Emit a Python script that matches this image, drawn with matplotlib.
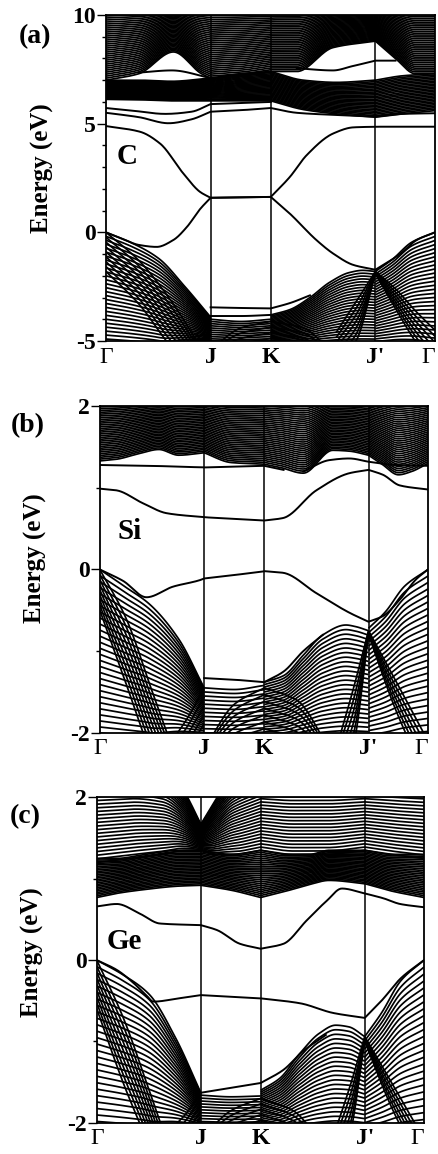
import numpy as np
import matplotlib
matplotlib.use("Agg")
import matplotlib.pyplot as plt

plt.rcParams['font.family'] = ['Liberation Serif', 'DejaVu Serif']
plt.rcParams['axes.unicode_minus'] = False

# high-symmetry path
k_ticks = [0.0, 0.318, 0.501, 0.819, 1.0]
k_labels = ["Γ", "J", "K", "J'", "Γ"]

# ---------------- (a) C : single bands (k nodes, energies) ----------------
C_gap_lo_k = [0, 0.05, 0.1, 0.154, 0.205, 0.245, 0.286, 0.318, 0.41, 0.501, 0.559, 0.64, 0.691, 0.752, 0.819, 0.894, 0.944, 1.0]
C_gap_lo_E = [0, -0.3, -0.58, -0.67, -0.35, 0.23, 1.07, 1.59, 1.61, 1.63, 0.86, -0.36, -0.98, -1.5, -1.72, -1.0, -0.36, 0.0]
C_gap_hi_k = [0, 0.103, 0.164, 0.235, 0.286, 0.318, 0.41, 0.501, 0.559, 0.61, 0.691, 0.752, 0.819, 0.9, 1.0]
C_gap_hi_E = [4.89, 4.63, 4.09, 2.71, 1.86, 1.59, 1.61, 1.63, 2.55, 3.55, 4.55, 4.83, 4.86, 4.86, 4.86]
C_c1_k = [0, 0.1, 0.19, 0.26, 0.318, 0.41, 0.501, 0.58, 0.7, 0.819, 0.9, 1.0]
C_c1_E = [5.5, 5.3, 5.02, 5.2, 5.55, 5.62, 5.72, 5.5, 5.4, 5.32, 5.45, 5.48]
C_c2_k = [0, 0.08, 0.18, 0.26, 0.318, 0.41, 0.501]
C_c2_E = [5.72, 5.6, 5.45, 5.55, 5.9, 5.95, 6.0]
C_lens_k = [0.58, 0.69, 0.75, 0.819, 0.88]
C_lens_E = [7.55, 7.45, 7.65, 7.9, 7.9]
C_tri_k = [0.1, 0.2, 0.318]
C_tri_E = [7.35, 7.45, 7.1]
C_v1_k = [0.318, 0.41, 0.501, 0.56, 0.62]
C_v1_E = [-3.45, -3.48, -3.5, -3.25, -2.9]
C_v2_k = [0.318, 0.41, 0.501]
C_v2_E = [-3.85, -3.85, -3.8]

# (a) C : dense band families (k nodes, upper edge, lower edge, number of bands)
C_cb_low = ([0, 0.1, 0.2, 0.318, 0.41, 0.501, 0.6, 0.7, 0.819, 0.9, 1.0],
            [7.0, 7.0, 6.95, 7.1, 7.3, 7.4, 7.0, 6.9, 7.0, 7.2, 7.3],
            [6.12, 6.1, 6.05, 6.05, 6.05, 6.05, 5.65, 5.45, 5.3, 5.45, 5.6], 26)
C_cb_up = ([0, 0.1, 0.205, 0.29, 0.318, 0.41, 0.501, 0.58, 0.69, 0.819, 0.88, 0.94, 1.0],
           [10.6] * 13,
           [7.0, 7.3, 8.3, 7.3, 7.1, 7.2, 7.4, 7.4, 8.5, 8.8, 8.0, 7.3, 7.3], 40)
C_vb_gj = ([0, 0.08, 0.16, 0.24, 0.318], [0, -0.5, -1.2, -2.5, -3.9], [-6.0, -6.0, -6.0, -5.6, -5.2], 34)
C_vb_steep = ([0, 0.1, 0.2, 0.28], [0, -1.3, -3.2, -5.1], [-1.8, -3.3, -5.3, -6.5], 9)
C_vb_jv = ([0.2, 0.26, 0.318], [-6.0, -5.0, -4.0], [-6.5, -6.0, -5.2], 6)
C_vb_jk = ([0.318, 0.41, 0.501], [-4.0, -4.1, -4.0], [-5.3, -5.3, -5.3], 14)
C_vb_dome = ([0.318, 0.41, 0.501, 0.6, 0.68], [-5.4, -4.4, -4.1, -4.4, -5.4], [-5.8, -5.6, -5.4, -5.6, -5.8], 6)
C_vb_hump = ([0.501, 0.56, 0.62, 0.68, 0.74, 0.78, 0.819],
             [-3.8, -3.55, -3.0, -2.3, -1.85, -1.75, -1.8], [-5.3] * 7, 28)
C_vb_jg = ([0.819, 0.87, 0.93, 1.0], [-1.8, -1.25, -0.45, 0.0], [-5.5, -5.5, -5.6, -5.8], 32)
C_vb_xr = ([0.819, 0.88, 0.94, 1.0], [-1.8, -2.6, -3.6, -4.5], [-1.9, -3.5, -5.0, -6.2], 7)
C_vb_xl = ([0.70, 0.76, 0.819], [-4.6, -3.2, -1.8], [-6.0, -5.0, -1.9], 7)

# ---------------- (b) Si ----------------
Si_gap_lo_k = [0, 0.071, 0.142, 0.223, 0.305, 0.318, 0.406, 0.501, 0.558, 0.66, 0.761, 0.819, 0.863, 0.914, 0.964, 1.0]
Si_gap_lo_E = [0, -0.14, -0.34, -0.21, -0.13, -0.11, -0.07, -0.02, -0.04, -0.29, -0.53, -0.64, -0.57, -0.37, -0.12, 0.0]
Si_gap_hi_k = [0, 0.05, 0.132, 0.203, 0.318, 0.501, 0.558, 0.66, 0.761, 0.819, 0.863, 0.914, 1.0]
Si_gap_hi_E = [0.99, 0.97, 0.81, 0.69, 0.64, 0.60, 0.63, 0.97, 1.18, 1.22, 1.16, 1.03, 0.98]
Si_c1_k = [0, 0.15, 0.318, 0.41, 0.501, 0.56]
Si_c1_E = [1.28, 1.27, 1.25, 1.26, 1.27, 1.22]
Si_c2_k = [0.62, 0.7, 0.76, 0.819, 0.9, 1.0]
Si_c2_E = [1.2, 1.34, 1.36, 1.32, 1.28, 1.27]
Si_v1_k = [0.318, 0.41, 0.501, 0.56, 0.62, 0.68]
Si_v1_E = [-1.33, -1.35, -1.38, -1.25, -1.0, -0.8]

Si_cb = ([0, 0.05, 0.12, 0.18, 0.24, 0.318, 0.40, 0.501, 0.55, 0.62, 0.71, 0.76, 0.819, 0.86, 0.91, 0.95, 1.0],
         [2.3] * 17,
         [1.33, 1.35, 1.42, 1.47, 1.40, 1.43, 1.31, 1.29, 1.25, 1.18, 1.46, 1.45, 1.40, 1.29, 1.16, 1.2, 1.3], 45)
Si_vb_gj = ([0, 0.08, 0.15, 0.24, 0.318], [0, -0.22, -0.42, -0.85, -1.45], [-2.3, -2.3, -2.3, -2.2, -2.1], 32)
Si_vb_steep = ([0, 0.08, 0.16, 0.24], [0, -0.6, -1.5, -2.4], [-0.5, -1.4, -2.3, -3.0], 9)
Si_vb_jv = ([0.22, 0.27, 0.318], [-2.1, -1.8, -1.45], [-2.6, -2.3, -2.0], 6)
Si_vb_jk = ([0.318, 0.41, 0.501], [-1.45, -1.47, -1.42], [-2.2] * 3, 16)
Si_vb_dome = ([0.318, 0.41, 0.501, 0.6, 0.7], [-2.2, -1.65, -1.45, -1.6, -2.2], [-2.5, -2.3, -2.2, -2.3, -2.5], 10)
Si_vb_hump = ([0.501, 0.56, 0.62, 0.68, 0.75, 0.78, 0.819],
              [-1.38, -1.3, -1.05, -0.8, -0.68, -0.7, -0.75], [-2.2] * 7, 28)
Si_vb_jg = ([0.819, 0.87, 0.93, 1.0], [-0.72, -0.52, -0.2, 0.0], [-2.3] * 4, 30)
Si_vb_xr = ([0.819, 0.9, 1.0], [-0.75, -1.35, -2.1], [-0.8, -1.7, -2.6], 6)
Si_vb_xl = ([0.72, 0.77, 0.819], [-2.2, -1.5, -0.75], [-2.6, -2.2, -0.8], 6)

# ---------------- (c) Ge ----------------
Ge_gap_lo_k = [0, 0.061, 0.112, 0.153, 0.173, 0.25, 0.318, 0.41, 0.501, 0.621, 0.723, 0.819, 0.87, 0.93, 1.0]
Ge_gap_lo_E = [0, -0.12, -0.28, -0.44, -0.51, -0.47, -0.43, -0.45, -0.47, -0.53, -0.65, -0.71, -0.5, -0.22, 0.0]
Ge_gap_hi_k = [0, 0.061, 0.132, 0.193, 0.318, 0.367, 0.438, 0.501, 0.57, 0.642, 0.703, 0.749, 0.819, 0.876, 0.927, 1.0]
Ge_gap_hi_E = [0.66, 0.69, 0.57, 0.45, 0.43, 0.37, 0.20, 0.14, 0.20, 0.49, 0.73, 0.88, 0.82, 0.76, 0.69, 0.65]
Ge_v1_k = [0.318, 0.41, 0.501, 0.57, 0.63, 0.7]
Ge_v1_E = [-1.63, -1.57, -1.51, -1.35, -1.12, -0.92]

Ge_cb_low = ([0, 0.06, 0.15, 0.25, 0.318, 0.41, 0.501, 0.58, 0.65, 0.71, 0.819, 0.9, 1.0],
             [1.25, 1.25, 1.3, 1.35, 1.35, 1.3, 1.35, 1.3, 1.3, 1.35, 1.35, 1.3, 1.3],
             [0.77, 0.82, 0.87, 0.91, 0.92, 0.86, 0.77, 0.85, 0.93, 0.98, 0.94, 0.85, 0.77], 25)
Ge_cb_up = ([0, 0.1, 0.2, 0.27, 0.318, 0.36, 0.42, 0.501, 0.6, 0.7, 0.819, 0.9, 1.0],
            [2.5, 2.5, 2.4, 2.05, 1.67, 1.95, 2.3, 2.5, 2.5, 2.5, 2.5, 2.5, 2.5],
            [1.2, 1.25, 1.3, 1.35, 1.35, 1.3, 1.3, 1.35, 1.3, 1.3, 1.35, 1.3, 1.25], 30)
Ge_vb_gj = ([0, 0.08, 0.16, 0.24, 0.318], [0, -0.18, -0.42, -0.95, -1.63], [-2.3, -2.3, -2.3, -2.2, -2.1], 30)
Ge_vb_steep = ([0, 0.08, 0.16, 0.22], [0, -0.7, -1.6, -2.3], [-0.6, -1.5, -2.3, -3.0], 9)
Ge_vb_jv = ([0.22, 0.27, 0.318], [-2.1, -1.9, -1.63], [-2.6, -2.3, -2.0], 6)
Ge_vb_jk = ([0.318, 0.41, 0.501], [-1.66, -1.68, -1.67], [-2.2] * 3, 16)
Ge_vb_dome = ([0.318, 0.41, 0.501, 0.6, 0.68], [-2.2, -1.85, -1.7, -1.85, -2.2], [-2.5, -2.4, -2.3, -2.4, -2.5], 10)
Ge_vb_hump = ([0.501, 0.56, 0.62, 0.68, 0.73, 0.77, 0.819],
              [-1.6, -1.45, -1.15, -0.9, -0.8, -0.82, -0.94], [-2.2] * 7, 26)
Ge_vb_jg = ([0.819, 0.87, 0.93, 1.0], [-0.94, -0.65, -0.25, 0.0], [-2.3] * 4, 28)
Ge_vb_xr = ([0.819, 0.9, 1.0], [-0.94, -1.5, -2.2], [-1.0, -1.8, -2.6], 6)
Ge_vb_xl = ([0.72, 0.77, 0.819], [-2.2, -1.6, -0.94], [-2.6, -2.2, -1.0], 6)


def pchip(x, y, xq):
    # monotone cubic through the read-off nodes (smooth drawing only)
    x = np.asarray(x, float)
    y = np.asarray(y, float)
    h = np.diff(x)
    d = np.diff(y) / h
    n = len(x)
    m = np.zeros(n)
    if n == 2:
        m[:] = d[0]
    else:
        for i in range(1, n - 1):
            if d[i - 1] * d[i] > 0:
                w1 = 2 * h[i] + h[i - 1]
                w2 = h[i] + 2 * h[i - 1]
                m[i] = (w1 + w2) / (w1 / d[i - 1] + w2 / d[i])
        m[0] = d[0]
        m[-1] = d[-1]
    idx = np.clip(np.searchsorted(x, xq) - 1, 0, n - 2)
    t = (xq - x[idx]) / h[idx]
    h00 = 2 * t**3 - 3 * t**2 + 1
    h10 = t**3 - 2 * t**2 + t
    h01 = -2 * t**3 + 3 * t**2
    h11 = t**3 - t**2
    return h00 * y[idx] + h10 * h[idx] * m[idx] + h01 * y[idx + 1] + h11 * h[idx] * m[idx + 1]


def curve(kn, En):
    # bands may kink at J, K, J' -> smooth each segment on its own
    kn = np.asarray(kn, float)
    En = np.asarray(En, float)
    cuts = [0] + [i for i in range(1, len(kn) - 1)
                  if any(abs(kn[i] - kt) < 1e-6 for kt in k_ticks[1:-1])] + [len(kn) - 1]
    ks, es = [], []
    for a, b in zip(cuts[:-1], cuts[1:]):
        kq = np.linspace(kn[a], kn[b], max(int((kn[b] - kn[a]) * 400), 4))
        ks.append(kq)
        es.append(pchip(kn[a:b + 1], En[a:b + 1], kq))
    return np.concatenate(ks), np.concatenate(es)


def draw_family(ax, fam, lw=1.25):
    kn, hi, lo, n = fam
    kq, eh = curve(kn, hi)
    _, el = curve(kn, lo)
    for t in np.linspace(0, 1, n):
        ax.plot(kq, eh + (el - eh) * t, color='black', lw=lw, solid_capstyle='butt')


def draw_band(ax, kn, En, lw=1.4):
    kq, eq = curve(kn, En)
    ax.plot(kq, eq, color='black', lw=lw)


fig = plt.figure(figsize=(4.38, 11.54), dpi=100)

panels = [
    dict(rect=[0.242, 0.7045, 0.751, 0.2825], ylim=(-5, 10), major=[-5, 0, 5, 10], minor=np.arange(-5, 11, 1),
         fams=[C_vb_gj, C_vb_steep, C_vb_jv, C_vb_jk, C_vb_dome, C_vb_hump, C_vb_jg, C_vb_xr, C_vb_xl,
               C_cb_low, C_cb_up],
         bands=[(C_gap_lo_k, C_gap_lo_E), (C_gap_hi_k, C_gap_hi_E), (C_c1_k, C_c1_E), (C_c2_k, C_c2_E),
                (C_lens_k, C_lens_E), (C_tri_k, C_tri_E), (C_v1_k, C_v1_E), (C_v2_k, C_v2_E)],
         name="C", name_xy=(0.033, 3.5), tag="(a)", tag_xy=(0.08, 0.968), ylab_xy=(0.096, 0.854)),
    dict(rect=[0.228, 0.365, 0.749, 0.283], ylim=(-2, 2), major=[-2, 0, 2], minor=[-1, 1],
         fams=[Si_vb_gj, Si_vb_steep, Si_vb_jv, Si_vb_jk, Si_vb_dome, Si_vb_hump, Si_vb_jg, Si_vb_xr,
               Si_vb_xl, Si_cb],
         bands=[(Si_gap_lo_k, Si_gap_lo_E), (Si_gap_hi_k, Si_gap_hi_E), (Si_c1_k, Si_c1_E),
                (Si_c2_k, Si_c2_E), (Si_v1_k, Si_v1_E)],
         name="Si", name_xy=(0.055, 0.47), tag="(b)", tag_xy=(0.064, 0.631), ylab_xy=(0.08, 0.516)),
    dict(rect=[0.221, 0.027, 0.747, 0.282], ylim=(-2, 2), major=[-2, 0, 2], minor=[-1, 1],
         fams=[Ge_vb_gj, Ge_vb_steep, Ge_vb_jv, Ge_vb_jk, Ge_vb_dome, Ge_vb_hump, Ge_vb_jg, Ge_vb_xr,
               Ge_vb_xl, Ge_cb_low, Ge_cb_up],
         bands=[(Ge_gap_lo_k, Ge_gap_lo_E), (Ge_gap_hi_k, Ge_gap_hi_E), (Ge_v1_k, Ge_v1_E)],
         name="Ge", name_xy=(0.03, 0.23), tag="(c)", tag_xy=(0.057, 0.292), ylab_xy=(0.073, 0.175)),
]

for p in panels:
    ax = fig.add_axes(p['rect'])
    for fam in p['fams']:
        draw_family(ax, fam)
    for kn, En in p['bands']:
        draw_band(ax, kn, En)
    for kt in k_ticks[1:-1]:
        ax.axvline(kt, color='black', lw=1.1)
    ax.set_xlim(0, 1)
    ax.set_ylim(*p['ylim'])
    ax.set_yticks(p['major'])
    ax.set_yticklabels([str(v) for v in p['major']], fontsize=17, fontweight='bold')
    ax.set_yticks(p['minor'], minor=True)
    ax.tick_params(axis='y', which='major', direction='out', length=6.5, width=1.0, pad=1)
    ax.tick_params(axis='y', which='minor', direction='out', length=3, width=1.0)
    ax.set_xticks(k_ticks)
    ax.set_xticklabels(k_labels, fontsize=17)
    ax.tick_params(axis='x', length=0, pad=4)
    xl = ax.get_xticklabels()
    for lab in xl:
        lab.set_fontweight('normal' if lab.get_text() == "Γ" else 'bold')
    xl[-1].set_horizontalalignment('right')
    for sp in ax.spines.values():
        sp.set_linewidth(1.3)
    ax.text(p['name_xy'][0], p['name_xy'][1], p['name'], fontsize=21, fontweight='bold',
            ha='left', va='center', transform=ax.transData)
    fig.text(p['tag_xy'][0], p['tag_xy'][1], p['tag'], fontsize=20, fontweight='bold', ha='center', va='center')
    fig.text(p['ylab_xy'][0], p['ylab_xy'][1], "Energy (eV)", fontsize=18, fontweight='bold',
             rotation=90, ha='center', va='center')

fig.savefig("out.png", dpi=100)
